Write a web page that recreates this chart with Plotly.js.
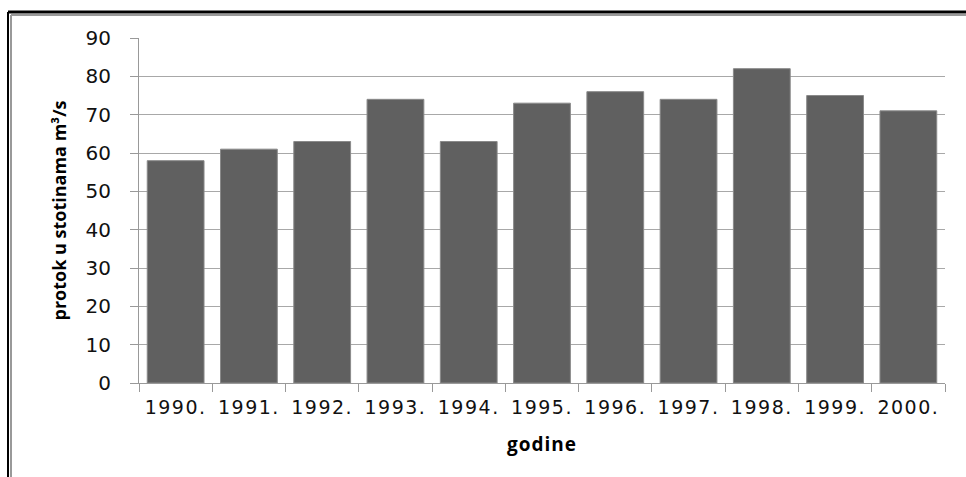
<!DOCTYPE html>
<html><head><meta charset="utf-8">
<script src="https://cdn.plot.ly/plotly-3.0.1.min.js"></script>
<style>html,body{margin:0;padding:0;background:#fff;}#c{width:966px;height:477px;}
.xtick text{letter-spacing:1.5px;}
.g-xtitle text{letter-spacing:1px;}
</style>
</head><body><div id="c"></div>
<script>
const years = ['1990.','1991.','1992.','1993.','1994.','1995.','1996.','1997.','1998.','1999.','2000.'];
const flow = [58, 61, 63, 74, 63, 73, 76, 74, 82, 75, 71];
const yTicks = [0,10,20,30,40,50,60,70,80,90];

const trace = {
  type: 'bar', x: years, y: flow,
  marker: {color: '#606060', line: {color: '#8a8a8a', width: 1}},
  hoverinfo: 'none'
};
const layout = {
  width: 966, height: 477,
  margin: {l: 139, r: 21, t: 38, b: 94},
  paper_bgcolor: '#fff', plot_bgcolor: '#fff',
  bargap: 0.225,
  showlegend: false,
  font: {family: 'DejaVu Sans', color: '#000'},
  xaxis: {
    type: 'category', tickson: 'boundaries', ticks: 'outside', ticklen: 8, tickcolor: '#999',
    showline: true, linecolor: '#999', linewidth: 1, showgrid: false,
    ticklabelstandoff: 7,
    tickfont: {family: 'DejaVu Sans', size: 19, color: '#111'},
    title: {text: 'godine', font: {family: 'Open Sans', size: 19, weight: 'bold', color: '#000'}, standoff: 20}
  },
  yaxis: {
    range: [0, 90], tickvals: yTicks, ticks: 'outside', ticklen: 8, tickcolor: '#999',
    showline: true, linecolor: '#999', linewidth: 1,
    showgrid: true, gridcolor: '#a8a8a8', gridwidth: 1, zeroline: false,
    ticklabelstandoff: 15,
    tickfont: {family: 'DejaVu Sans', size: 20, color: '#111'},
    title: {text: 'protok u stotinama m³/s', font: {family: 'Open Sans', size: 18, weight: 'bold', color: '#000'}, standoff: 14}
  },
  shapes: [
    {type:'line', xref:'paper', yref:'paper', x0:-131/806, x1:-131/806, y0:1+26/345, y1:-94/345, line:{color:'#000', width:2}},
    {type:'line', xref:'paper', yref:'paper', x0:-131/806, x1:(966-139)/806, y0:1+26/345, y1:1+26/345, line:{color:'#000', width:3}},
    {type:'line', xref:'paper', yref:'paper', x0:-128/806, x1:-128/806, y0:1+23/345, y1:-94/345, line:{color:'#999', width:2}},
    {type:'line', xref:'paper', yref:'paper', x0:-128/806, x1:(966-139)/806, y0:1+23/345, y1:1+23/345, line:{color:'#999', width:2}}
  ]
};
Plotly.newPlot('c', [trace], layout, {staticPlot: true});
</script></body></html>
